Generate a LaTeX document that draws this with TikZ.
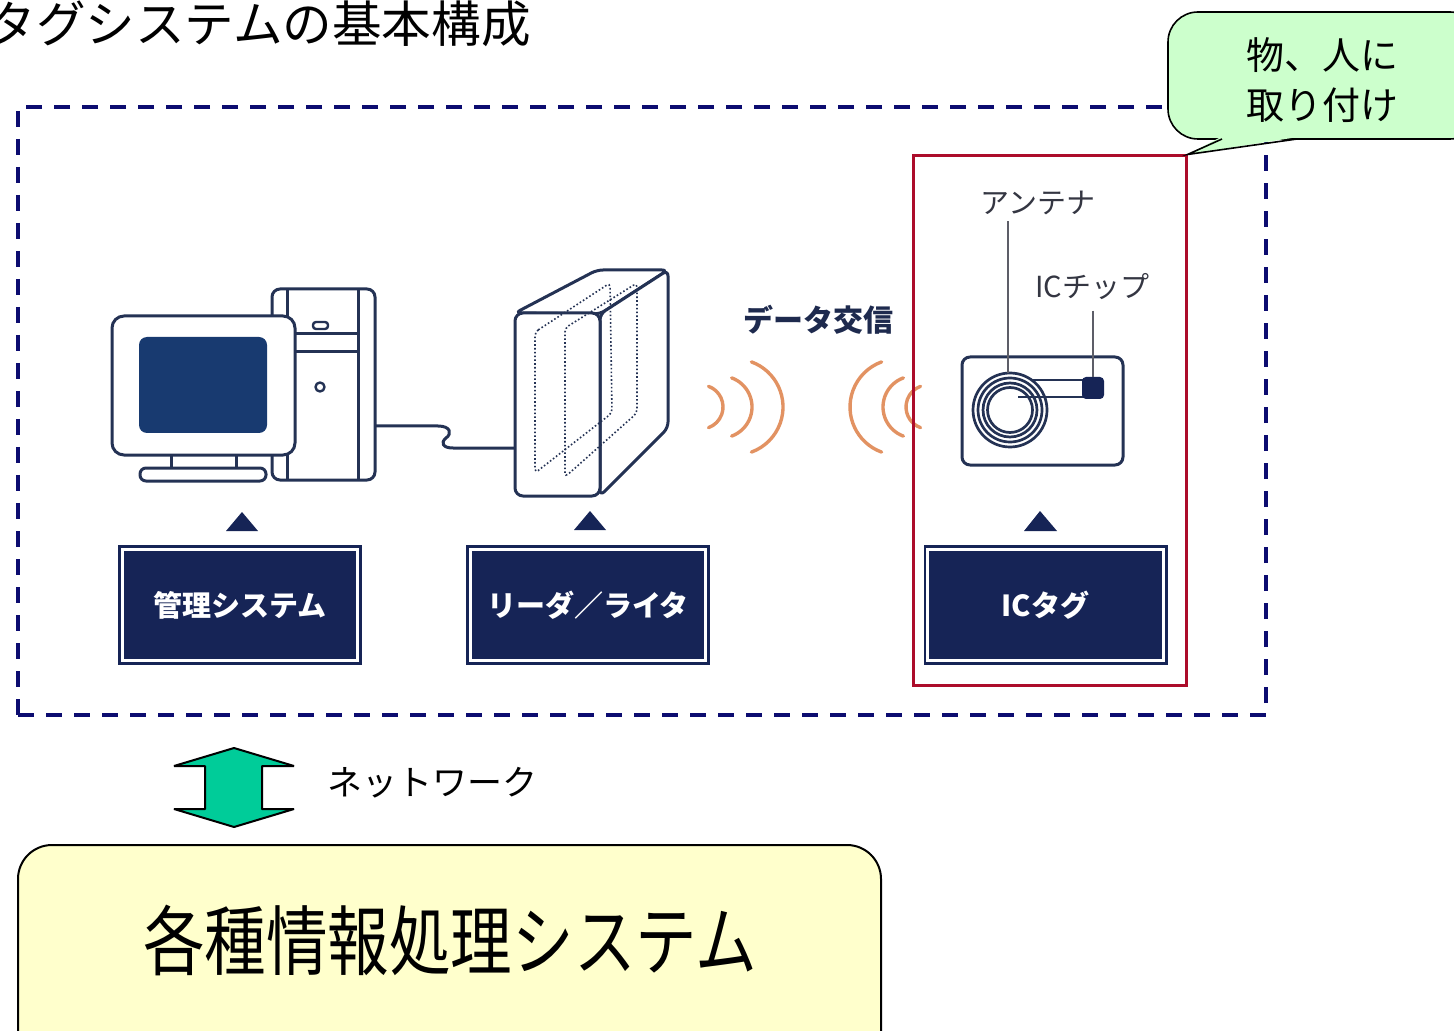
\documentclass[tikz,border=0pt]{standalone}
\usepackage{fontspec}
\newfontfamily\jp{Noto Sans CJK JP}
\usetikzlibrary{calc}
\definecolor{framenavy}{RGB}{12,12,112}
\definecolor{zonered}{RGB}{172,12,42}
\definecolor{inkline}{RGB}{36,50,84}
\definecolor{screenblue}{RGB}{24,58,112}
\definecolor{tagbox}{RGB}{22,36,86}
\definecolor{wave}{RGB}{226,146,98}
\definecolor{notegreen}{RGB}{204,255,204}
\definecolor{netgreen}{RGB}{0,204,153}
\definecolor{sysyellow}{RGB}{255,255,204}
\definecolor{labelgray}{RGB}{52,54,66}
\definecolor{headnavy}{RGB}{30,42,78}
\begin{document}
\begin{tikzpicture}[x=0.5pt,y=-0.5pt,
  every node/.style={font=\jp, inner sep=0pt},
  ink/.style={draw=inkline, line width=1.5pt, line join=round},
  coilring/.style={draw=inkline, line width=1.35pt},
  coilline/.style={draw=inkline, line width=0.8pt, dash pattern=on 0.8pt off 1.1pt, rounded corners=2pt},
  wavearc/.style={draw=wave, line width=1.7pt, line cap=round},
  leader/.style={draw=labelgray!80, line width=0.6pt},
  marker/.style={fill=tagbox},
  namebox/.style={fill=tagbox, draw=tagbox, line width=1.3pt, double=white, double distance=1.6pt,
    minimum width=117.8pt, minimum height=55.8pt, text=white, font=\jp\bfseries\fontsize{14.5}{17}\selectfont},
  partlabel/.style={text=labelgray, font=\jp\fontsize{14.5}{17}\selectfont},
]
\useasboundingbox (0,0) rectangle (1454,1031);

% heading
\node[anchor=east, font=\jp\fontsize{24.8}{28}\selectfont] (title) at (531,24) {タグシステムの基本構成};

% dashed frame around the tag system
\node[draw=framenavy, line width=2pt, dash pattern=on 8pt off 6pt,
      minimum width=624pt, minimum height=304pt] (system) at (642,411) {};

% PC tower
\draw[ink, fill=white, rounded corners=4pt] (272,289) rectangle (375,480);
\draw[ink] (287,290) -- (287,479) (358,290) -- (358,479);
\draw[ink] (287,334) -- (358,334) (287,352) -- (358,352);
\draw[ink, line width=1.2pt, rounded corners=1.5pt] (313,322) rectangle (328,329);
\draw[ink, line width=1.2pt] (320,387) circle[radius=4.5];
% monitor
\draw[ink, fill=white, rounded corners=6pt] (112,316) rectangle (295,455);
\fill[screenblue, rounded corners=4pt] (139,337) rectangle (267,433);
\draw[ink] (171,455) -- (171,468) (236,455) -- (236,468);
\draw[ink, fill=white, rounded corners=3pt] (140,468) rectangle (266,481);

% cable from PC to reader/writer
\coordinate (pcport) at (375,426);
\coordinate (rwport) at (515,448);
\draw[ink] (pcport) -- (438,426) .. controls (451,426) and (452,434) .. (446,438)
  .. controls (440,443) and (443,448) .. (453,448) -- (rwport);

% reader/writer unit
\draw[ink, fill=white, rounded corners=3pt] (515,313) -- (597,270) -- (668,270) -- (600,314) -- cycle;
\draw[ink, fill=white, rounded corners=3pt] (600,314) -- (668,270) -- (668,428) -- (600,496) -- cycle;
\draw[ink, fill=white, rounded corners=4pt] (515,313) rectangle (600,496);
\draw[coilline] (535,332) -- (610,283) -- (612,413) -- (535,473) -- cycle;
\draw[coilline] (565,328) -- (637,283) -- (637,413) -- (565,477) -- cycle;

% radio waves
\foreach \r/\cx in {22/701, 31/721, 48/735}
  \draw[wavearc] (\cx,407) ++(-70:\r) arc[start angle=-70, end angle=70, radius=\r];
\foreach \r/\cx in {48/898, 31/914, 22/928}
  \draw[wavearc] (\cx,407) ++(110:\r) arc[start angle=110, end angle=250, radius=\r];
\node[font=\jp\bfseries\fontsize{15}{18}\selectfont, text=headnavy] (datacomm) at (818,320) {データ交信};

% IC tag card
\draw[ink, fill=white, rounded corners=4pt] (962,357) rectangle (1123,465);
\foreach \r in {37,32,27,22.5}
  \draw[coilring] (1010,410) circle[radius=\r];
\draw[ink, line width=1.1pt] (1032,380) -- (1084,380) (1018,397) -- (1084,397);
\node[fill=tagbox, rounded corners=2pt, minimum size=11pt] (chip) at (1093,388) {};
\coordinate (coiltop) at (1008,373.5);
\node[partlabel] (antlabel) at (1038,203) {アンテナ};
\node[partlabel] (chiplabel) at (1092,287) {ICチップ};
\draw[leader, shorten <=3pt] (antlabel.south -| coiltop) -- (coiltop);
\draw[leader, shorten <=5pt] (chiplabel.south -| chip.north) -- (chip.north);

% tag area
\node[draw=zonered, line width=1.5pt, minimum width=136.5pt, minimum height=264.5pt] (tagzone) at (1049.5,420.5) {};

% pointer marks
\fill[marker] (226,531) -- (242,512) -- (258,531) -- cycle;
\fill[marker] (574,530) -- (590,511) -- (606,530) -- cycle;
\fill[marker] (1024,531) -- (1040,511) -- (1057,531) -- cycle;

% name plates
\node[namebox] (mgmt) at (240,605) {管理システム};
\node[namebox] (rw) at (588,605) {リーダ／ライタ};
\node[namebox] (ictag) at (1045.5,605) {ICタグ};

% speech bubble
\node[draw=black, line width=0.8pt, fill=notegreen, rounded corners=15pt,
      minimum width=156pt, minimum height=63.5pt] (note) at (1324,75.5) {};
\coordinate (tailL) at (1222,139);
\coordinate (tailR) at (1297,139);
\fill[notegreen] ($(tailL)+(-1,-2)$) -- (tagzone.north east) -- ($(tailR)+(1,-2)$) -- cycle;
\draw[black, line width=0.8pt, line join=miter] (tailL) -- (tagzone.north east) -- (tailR);
\node[align=center, font=\jp\fontsize{19}{25}\selectfont] (notetext) at (1322,80) {物、人に\\取り付け};

% network link
\draw[fill=netgreen, draw=black, line width=1pt, line join=bevel] (234,748) -- (294,766) -- (262,766) -- (262,809)
  -- (294,809) -- (234,827) -- (174,809) -- (205,809) -- (205,766) -- (174,766) -- cycle;
\node[font=\jp\fontsize{17.5}{20}\selectfont] (net) at (432,783) {ネットワーク};

% information systems
\draw[fill=sysyellow, draw=black, line width=1pt, rounded corners=17pt] (18,845) rectangle (881,1075);
\node[font=\jp\fontsize{38}{44}\selectfont, xscale=0.81] (infosys) at (450,940) {各種情報処理システム};
\end{tikzpicture}
\end{document}
